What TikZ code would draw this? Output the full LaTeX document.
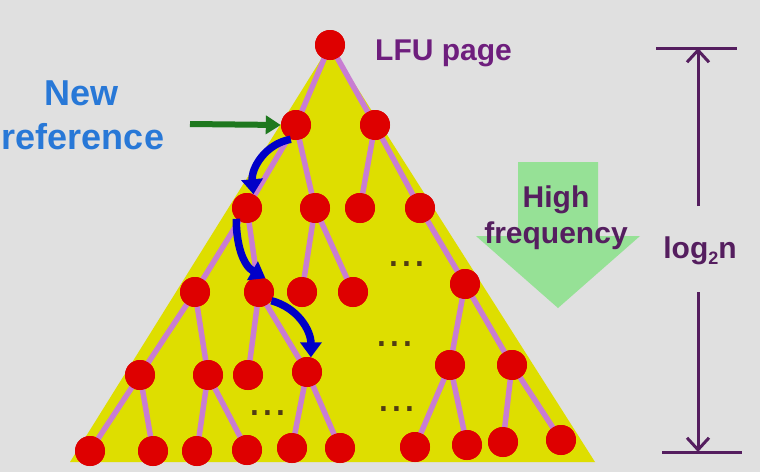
\documentclass[tikz,border=0pt]{standalone}
\usepackage{fontspec}
\setmainfont{Liberation Sans}
\usetikzlibrary{arrows.meta}
\definecolor{bggray}{RGB}{224,224,224}
\definecolor{triyellow}{RGB}{222,222,0}
\definecolor{nodered}{RGB}{222,0,0}
\definecolor{edgepink}{RGB}{200,125,210}
\definecolor{arrowblue}{RGB}{0,0,200}
\definecolor{darkgreen}{RGB}{30,120,30}
\definecolor{lightgreen}{RGB}{150,225,150}
\definecolor{textblue}{RGB}{40,120,215}
\definecolor{lfupurple}{RGB}{110,30,125}
\definecolor{darkpurple}{RGB}{85,30,95}
\definecolor{dotolive}{RGB}{80,60,20}
\begin{document}
\begin{tikzpicture}[x=1pt,y=-1pt,
  tn/.style={circle,fill=nodered,minimum size=30pt,inner sep=0pt},
  te/.style={draw=edgepink,line width=5.5pt},
  barrow/.style={draw=arrowblue,line width=7.5pt,-{Triangle[length=15pt,width=21pt]}},
  garrow/.style={draw=darkgreen,line width=6pt,-{Triangle[length=15pt,width=18pt]}},
  dimline/.style={draw=darkpurple,line width=3pt},
  dimtip/.style={-{Straight Barb[length=12pt,width=22pt,line width=3pt]}},
  bigtext/.style={font=\fontsize{36}{40}\selectfont\bfseries,text=textblue,inner sep=0pt},
  midtext/.style={font=\fontsize{30}{34}\selectfont\bfseries,inner sep=0pt},
  dots/.style={font=\fontsize{46}{46}\selectfont,text=dotolive,inner sep=0pt,anchor=base}]
\fill[bggray] (0,0) rectangle (760,472);
\useasboundingbox (0,0) rectangle (760,472);
% yellow triangle
\fill[triyellow] (330,45) -- (70,462) -- (595,462) -- cycle;
% big green arrow
\fill[lightgreen] (518,162) -- (598,162) -- (598,236) -- (640,236) -- (558,308) -- (476,236) -- (518,236) -- cycle;
% tree nodes
\node[tn] (r) at (330,45) {};
\node[tn] (a1) at (296,125) {};
\node[tn] (a2) at (375,125) {};
\node[tn] (b1) at (247,208) {};
\node[tn] (b2) at (315,208) {};
\node[tn] (b3) at (360,208) {};
\node[tn] (b4) at (420,208) {};
\node[tn] (c1) at (195,292) {};
\node[tn] (c2) at (259,292) {};
\node[tn] (c3) at (302,292) {};
\node[tn] (c4) at (353,292) {};
\node[tn] (c5) at (465,284) {};
\node[tn] (d1) at (140,375) {};
\node[tn] (d2) at (208,375) {};
\node[tn] (d3) at (248,375) {};
\node[tn] (d4) at (307,372) {};
\node[tn] (d5) at (450,365) {};
\node[tn] (d6) at (512,365) {};
\node[tn] (e1) at (90,451) {};
\node[tn] (e2) at (153,451) {};
\node[tn] (e3) at (197,451) {};
\node[tn] (e4) at (247,450) {};
\node[tn] (e5) at (292,448) {};
\node[tn] (e6) at (340,448) {};
\node[tn] (e7) at (415,447) {};
\node[tn] (e8) at (467,445) {};
\node[tn] (e9) at (503,442) {};
\node[tn] (e10) at (561,440) {};
% edges
\foreach \u/\v in {r/a1,r/a2,a1/b1,a1/b2,a2/b3,a2/b4,b1/c1,b1/c2,b2/c3,b2/c4,b4/c5,c1/d1,c1/d2,c2/d3,c2/d4,c5/d5,c5/d6,d1/e1,d1/e2,d2/e3,d2/e4,d4/e5,d4/e6,d5/e7,d5/e8,d6/e9,d6/e10}
  \draw[te] (\u.center) -- (\v.center);
% nodes again on top of the edges
\foreach \n in {r,a1,a2,b1,b2,b3,b4,c1,c2,c3,c4,c5,d1,d2,d3,d4,d5,d6,e1,e2,e3,e4,e5,e6,e7,e8,e9,e10}
  \fill[nodered] (\n.center) circle[radius=15pt];
% ellipses
\node[dots] (dd1) at (407,266) {...};
\node[dots] (dd2) at (395,346) {...};
\node[dots] (dd3) at (397,411) {...};
\node[dots] (dd4) at (268,415) {...};
% blue arrows
\draw[barrow] (a1.250) to[out=190,in=95] (b1.65);
\draw[barrow] (b1.225) to[out=-90,in=150] (c2.65);
\draw[barrow] (c2.-35) to[out=-15,in=90] (d4.75);
% green arrow
\coordinate (gs) at (190,124);
\draw[garrow] (gs) -- (a1.west);
% texts
\node[bigtext,anchor=base] (new) at (82,105) {New};
\node[bigtext,anchor=base] (ref) at (83,149) {reference};
\node[midtext,text=lfupurple,anchor=base west] (lfu) at (375,60) {LFU page};
\node[midtext,text=darkpurple,anchor=base] (high) at (556,207) {High};
\node[midtext,text=darkpurple,anchor=base] (freq) at (556,243) {frequency};
\node[midtext,text=darkpurple,anchor=base] (log) at (700,258) {log\raisebox{-0.22em}{\fontsize{18}{18}\selectfont 2}n};
% dimension
\coordinate (dt) at (698,48);
\coordinate (du) at (698,206);
\coordinate (dl) at (698,292);
\coordinate (db) at (698,452);
\coordinate (tl) at (656,48);
\coordinate (tr) at (737,48);
\coordinate (bl) at (662,452);
\coordinate (br) at (742,452);
\draw[dimline] (tl) -- (tr);
\draw[dimline] (bl) -- (br);
\draw[dimline,dimtip] (du) -- (dt);
\draw[dimline,dimtip] (dl) -- (db);
\end{tikzpicture}
\end{document}
